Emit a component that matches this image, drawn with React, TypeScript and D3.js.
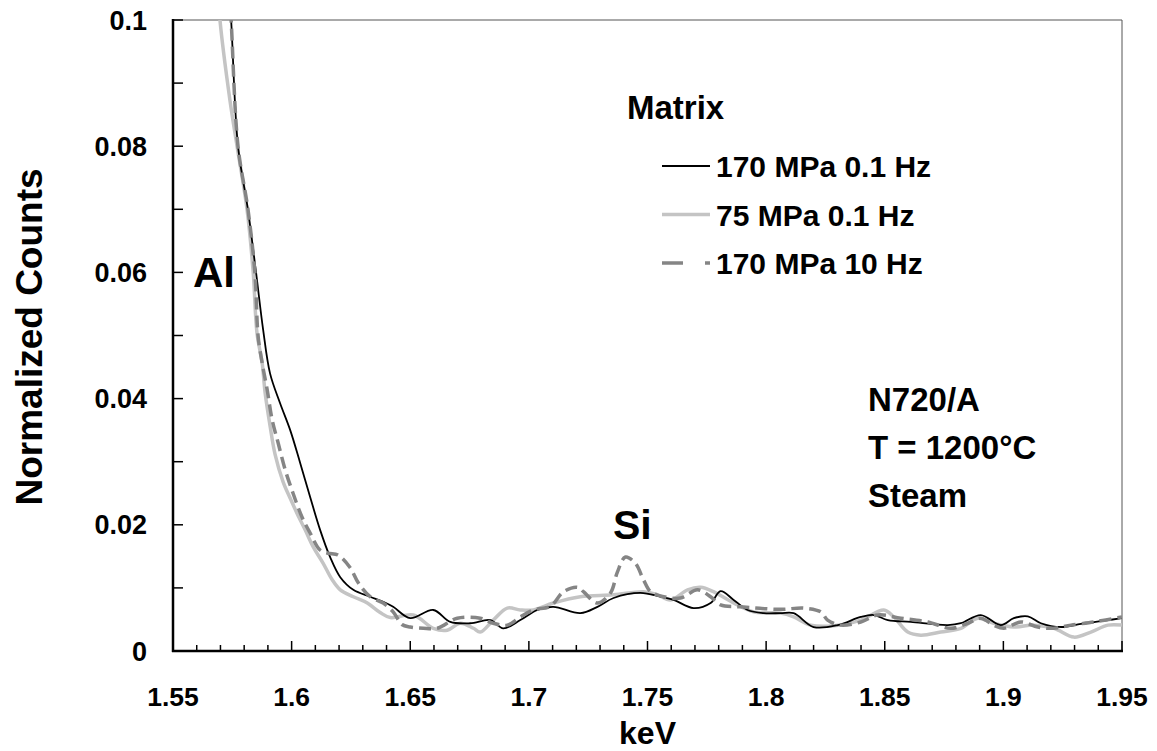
import React from "react";
import * as d3 from "d3";

const xTicks = [1.55, 1.6, 1.65, 1.7, 1.75, 1.8, 1.85, 1.9, 1.95];
const yTicks = [0, 0.02, 0.04, 0.06, 0.08, 0.1];

const blackKeV = [1.572, 1.5745, 1.5774, 1.5816, 1.585, 1.588, 1.5909, 1.5951, 1.5994, 1.6036, 1.6078, 1.612, 1.6162, 1.6205, 1.626, 1.6331, 1.6386, 1.6428, 1.65, 1.6597, 1.6669, 1.6753, 1.6838, 1.6892, 1.6964, 1.7036, 1.7103, 1.7217, 1.7289, 1.7357, 1.747, 1.7555, 1.761, 1.7694, 1.7766, 1.7808, 1.7863, 1.7922, 1.799, 1.8061, 1.8116, 1.82, 1.8302, 1.8399, 1.8454, 1.8513, 1.861, 1.8766, 1.8821, 1.8905, 1.8989, 1.9044, 1.9103, 1.9158, 1.9243, 1.9327, 1.9424, 1.95];
const blackCounts = [0.115, 0.1, 0.08, 0.0699, 0.06, 0.0509, 0.044, 0.0393, 0.035, 0.0298, 0.0244, 0.0192, 0.0149, 0.0117, 0.0097, 0.0086, 0.0078, 0.007, 0.0052, 0.0065, 0.0046, 0.0044, 0.0049, 0.0036, 0.0049, 0.0065, 0.007, 0.006, 0.007, 0.0084, 0.0092, 0.0086, 0.0081, 0.0068, 0.0076, 0.0095, 0.0081, 0.0065, 0.006, 0.006, 0.006, 0.0038, 0.0041, 0.0054, 0.0057, 0.0049, 0.0046, 0.0041, 0.0044, 0.0057, 0.0041, 0.0052, 0.0055, 0.0044, 0.0038, 0.0043, 0.0048, 0.0052];

const grayKeV = [1.5685, 1.5698, 1.574, 1.577, 1.5812, 1.5838, 1.5854, 1.5876, 1.5888, 1.5909, 1.593, 1.5964, 1.5994, 1.6023, 1.6057, 1.6091, 1.6133, 1.6171, 1.6205, 1.626, 1.6319, 1.6373, 1.6416, 1.6513, 1.6597, 1.6656, 1.6711, 1.6766, 1.6795, 1.685, 1.6909, 1.6964, 1.7019, 1.7103, 1.7217, 1.7357, 1.7483, 1.7542, 1.7597, 1.7669, 1.7724, 1.7778, 1.7863, 1.7947, 1.8061, 1.8116, 1.8188, 1.8285, 1.8399, 1.8496, 1.8538, 1.8597, 1.8652, 1.8736, 1.8821, 1.8892, 1.8959, 1.9044, 1.9128, 1.9213, 1.9297, 1.9369, 1.9441, 1.95];
const grayCounts = [0.108, 0.1, 0.0873, 0.08, 0.07, 0.06, 0.0504, 0.0456, 0.041, 0.0357, 0.0312, 0.0268, 0.0242, 0.0218, 0.0192, 0.0165, 0.0139, 0.0113, 0.0097, 0.0086, 0.0076, 0.0061, 0.0053, 0.0057, 0.0036, 0.0033, 0.0044, 0.0036, 0.003, 0.0049, 0.0068, 0.0065, 0.0065, 0.0076, 0.0086, 0.0089, 0.0094, 0.0089, 0.0081, 0.0097, 0.0101, 0.0094, 0.0076, 0.0062, 0.006, 0.0054, 0.0041, 0.004, 0.0049, 0.0065, 0.0054, 0.003, 0.0025, 0.003, 0.0036, 0.0052, 0.0044, 0.0038, 0.0041, 0.0036, 0.0022, 0.003, 0.0041, 0.0041];

const dashKeV = [1.573, 1.5745, 1.5774, 1.5816, 1.5845, 1.5859, 1.5876, 1.5897, 1.5918, 1.5943, 1.5973, 1.6006, 1.6044, 1.6078, 1.612, 1.6154, 1.6196, 1.6247, 1.6281, 1.6331, 1.6386, 1.6428, 1.6465, 1.65, 1.6555, 1.6614, 1.6698, 1.6795, 1.685, 1.6909, 1.6964, 1.7019, 1.7091, 1.7146, 1.7205, 1.723, 1.7289, 1.7344, 1.7373, 1.7407, 1.7449, 1.7483, 1.7513, 1.7568, 1.7639, 1.7711, 1.7766, 1.7808, 1.7892, 1.8061, 1.8158, 1.823, 1.8259, 1.8314, 1.8399, 1.847, 1.8568, 1.8682, 1.8779, 1.885, 1.8905, 1.8959, 1.9002, 1.9074, 1.9145, 1.9213, 1.9285, 1.9382, 1.95];
const dashCounts = [0.11, 0.1, 0.08, 0.07, 0.06, 0.0498, 0.0456, 0.0414, 0.0366, 0.033, 0.0287, 0.025, 0.0212, 0.0187, 0.016, 0.0155, 0.0152, 0.0132, 0.0108, 0.0086, 0.0076, 0.0062, 0.0042, 0.0038, 0.0036, 0.0036, 0.0052, 0.0052, 0.0044, 0.0041, 0.0054, 0.0065, 0.0071, 0.0094, 0.0101, 0.0094, 0.0076, 0.0092, 0.0125, 0.0149, 0.0139, 0.0113, 0.0094, 0.0086, 0.0084, 0.0097, 0.0086, 0.0073, 0.007, 0.0066, 0.0068, 0.0062, 0.0049, 0.0041, 0.0046, 0.0057, 0.0052, 0.0046, 0.0036, 0.0044, 0.0052, 0.0041, 0.0036, 0.0046, 0.0038, 0.0036, 0.0041, 0.0046, 0.0054];

const seriesNames = ["170 MPa 0.1 Hz", "75 MPa 0.1 Hz", "170 MPa 10 Hz"];
const annotations = ["N720/A", "T = 1200°C", "Steam"];

const FONT = "'Liberation Sans', Arial, sans-serif";
const L = 173, R = 1122, T = 20, B = 651;

export default function App() {
  const x = d3.scaleLinear().domain([1.55, 1.95]).range([L, R]);
  const y = d3.scaleLinear().domain([0, 0.1]).range([B, T]);
  const line = d3
    .line<[number, number]>()
    .x((d) => x(d[0]))
    .y((d) => y(d[1]))
    .curve(d3.curveCatmullRom.alpha(0.5));

  const zip = (a: number[], b: number[]) => a.map((v, i) => [v, b[i]] as [number, number]);
  const series = [
    { name: seriesNames[1], data: zip(grayKeV, grayCounts), color: "#c4c4c4", width: 3.5, dash: undefined, legendDash: undefined },
    { name: seriesNames[0], data: zip(blackKeV, blackCounts), color: "#000000", width: 1.8, dash: undefined, legendDash: undefined },
    { name: seriesNames[2], data: zip(dashKeV, dashCounts), color: "#858585", width: 3.5, dash: "12,6", legendDash: "21,22" },
  ];
  const legendOrder = [series[1], series[0], series[2]];

  const minorX = d3.range(0, 41).map((i) => 1.55 + i * 0.01);
  const minorY = d3.range(0, 11).map((i) => i * 0.01);
  const fmt = (v: number) => (v === 0 ? "0" : String(+v.toFixed(2)));

  return (
    <svg width={1157} height={751} style={{ position: "absolute", left: 0, top: 0, background: "#fff" }}>
      <defs>
        <clipPath id="plotClip">
          <rect x={L} y={T} width={R - L} height={B - T} />
        </clipPath>
      </defs>
      <rect x={0} y={0} width={1157} height={751} fill="#fff" />
      <line x1={L} y1={T} x2={R} y2={T} stroke="#555" strokeWidth={1} />
      <line x1={R} y1={T} x2={R} y2={B} stroke="#555" strokeWidth={1} />

      <g clipPath="url(#plotClip)">
        {series.map((s) => (
          <path key={s.name} d={line(s.data) || ""} fill="none" stroke={s.color} strokeWidth={s.width} strokeDasharray={s.dash} strokeLinejoin="round" />
        ))}
      </g>

      <line x1={L} y1={T - 1} x2={L} y2={B + 1} stroke="#000" strokeWidth={2.5} />
      <line x1={L - 1} y1={B} x2={R + 1} y2={B} stroke="#000" strokeWidth={2.5} />
      {minorX.map((v, i) => (
        <line key={"mx" + i} x1={x(v)} x2={x(v)} y1={B} y2={B - (i % 5 === 0 ? 10 : 6)} stroke="#000" strokeWidth={1.5} />
      ))}
      {minorY.map((v, i) => (
        <line key={"my" + i} x1={L} x2={L + 10} y1={y(v)} y2={y(v)} stroke="#000" strokeWidth={1.5} />
      ))}

      {xTicks.map((v) => (
        <text key={"xt" + v} x={x(v)} y={706} textAnchor="middle" fontFamily={FONT} fontWeight="bold" fontSize={26.5} fill="#000">
          {fmt(v)}
        </text>
      ))}
      {yTicks.map((v) => (
        <text key={"yt" + v} x={147} y={y(v) + 9.5} textAnchor="end" fontFamily={FONT} fontWeight="bold" fontSize={27} fill="#000">
          {fmt(v)}
        </text>
      ))}

      <text x={x(1.75)} y={744} textAnchor="middle" fontFamily={FONT} fontWeight="bold" fontSize={32} fill="#000">
        keV
      </text>
      <text transform="translate(42,337) rotate(-90)" textAnchor="middle" fontFamily={FONT} fontWeight="bold" fontSize={37} fill="#000">
        Normalized Counts
      </text>

      <text x={627} y={119} fontFamily={FONT} fontWeight="bold" fontSize={33} fill="#000">
        Matrix
      </text>
      {legendOrder.map((s, i) => (
        <g key={"lg" + i}>
          <line x1={662} x2={710} y1={166 + i * 48.5} y2={166 + i * 48.5} stroke={s.color} strokeWidth={s.width} strokeDasharray={s.legendDash} />
          <text x={716} y={177 + i * 48.5} fontFamily={FONT} fontWeight="bold" fontSize={30} fill="#000">
            {s.name}
          </text>
        </g>
      ))}

      {annotations.map((t, i) => (
        <text key={"an" + i} x={868} y={411 + i * 48} fontFamily={FONT} fontWeight="bold" fontSize={33} fill="#000">
          {t}
        </text>
      ))}
      <text x={193} y={287} fontFamily={FONT} fontWeight="bold" fontSize={42} fill="#000">
        Al
      </text>
      <text x={613} y={539} fontFamily={FONT} fontWeight="bold" fontSize={41} fill="#000">
        Si
      </text>
    </svg>
  );
}
